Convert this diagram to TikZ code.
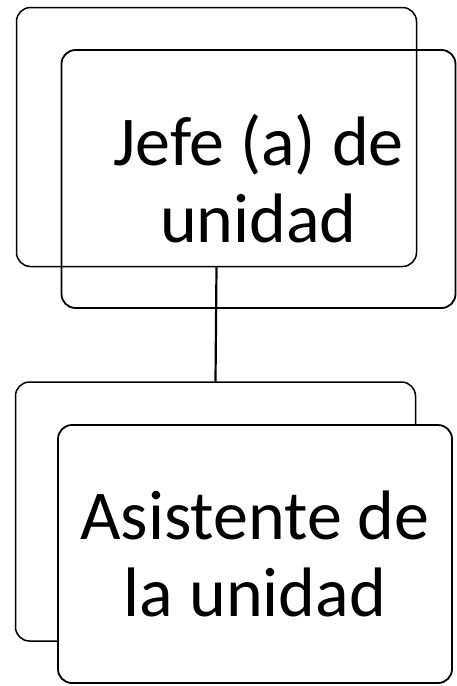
\documentclass[tikz,border=0pt]{standalone}
\usepackage{fontspec}
\setmainfont{Carlito}
\usetikzlibrary{positioning}

\begin{document}
\begin{tikzpicture}[
  x=1pt, y=1pt,
  back/.style={rectangle, draw, rounded corners=14pt, line width=1.5pt,
               minimum width=400pt, minimum height=259pt},
  front/.style={rectangle, draw, rounded corners=14pt, line width=1.8pt,
                minimum width=394pt, minimum height=258pt, align=center,
                font=\fontsize{70}{77}\selectfont},
  link/.style={line width=2.2pt}
]
  \useasboundingbox (0,0) rectangle (456,-686);

  % Top level
  \node[back]  (jefeB) at (216.5,-137) {};
  \node[front] (jefe)  at (258.5,-179) {Jefe (a) de\\unidad};

  % Second level
  \node[back]  (asisB) at (215.5,-511.5) {};
  \node[front, fill=white] (asis) at (255,-554) {Asistente de\\la unidad};

  % Connector
  \draw[link] (jefeB.south) -- (asisB.north);
\end{tikzpicture}
\end{document}
